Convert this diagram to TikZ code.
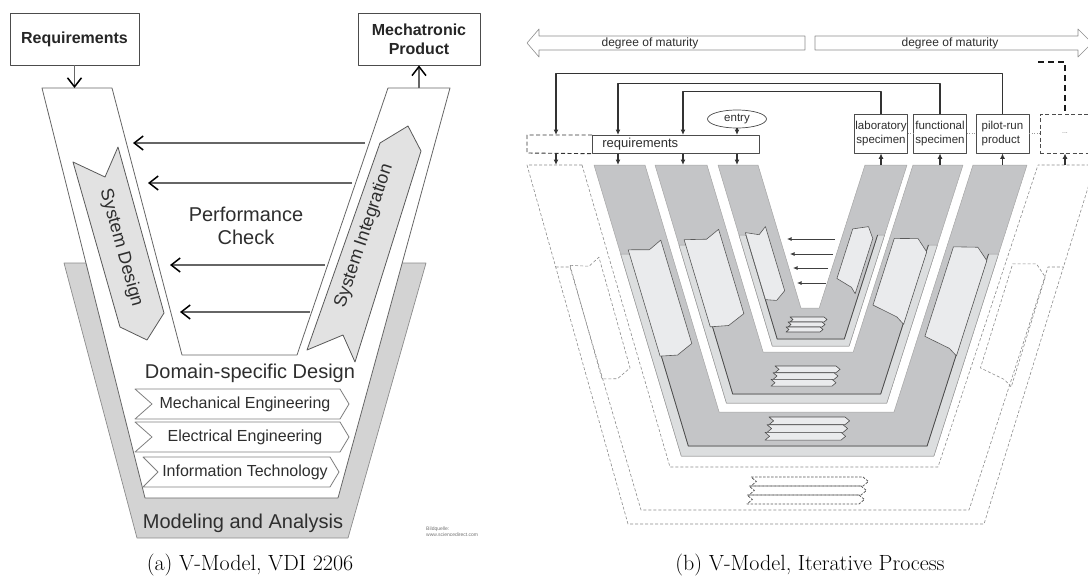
\documentclass[tikz,border=0pt]{standalone}
\usepackage{fontspec}
\newfontfamily\arialf{Liberation Sans}
\usetikzlibrary{arrows.meta,shapes.geometric}
\definecolor{agrey}{HTML}{D3D3D3}
\definecolor{apanel}{HTML}{E2E2E2}
\definecolor{vgrey}{HTML}{C4C5C7}
\definecolor{vlight}{HTML}{DCDEDF}
\definecolor{vpanel}{HTML}{EAEBED}
\tikzset{
  lbl/.style 2 args={font=\arialf\fontsize{#1}{#2}\selectfont, text=black!82, inner sep=0pt},
  abox/.style={draw=black!70, line width=0.8pt, fill=white, minimum height=52pt, align=center,
    font=\arialf\bfseries\fontsize{16}{19}\selectfont, text=black!85},
  agreybox/.style={fill=agrey, draw=black!45, line width=0.7pt},
  aline/.style={draw=black!60, line width=0.8pt},
  apanelbox/.style={fill=apanel, draw=black!65, line width=0.8pt},
  achev/.style={fill=white, draw=black!50, line width=0.8pt},
  openarrow/.style={draw=black!60, line width=1.2pt, -{Straight Barb[length=9pt,width=14pt,line width=1.5pt,black]}},
  matarrow/.style={draw=black!45, fill=white, line width=0.6pt},
  vband/.style={fill=vgrey, draw=black!35, line width=0.5pt},
  vstrip/.style={fill=vlight, draw=black!40, line width=0.5pt},
  vedge/.style={draw=black!70, line width=0.8pt},
  vpanelbox/.style={fill=vpanel, draw=black!65, line width=0.6pt},
  vchev/.style={fill=vpanel, draw=black!70, line width=0.6pt},
  ghost/.style={draw=black!45, line width=0.6pt, dash pattern=on 3pt off 2pt},
  ghostchev/.style={draw=black!65, line width=0.8pt, dash pattern=on 2.5pt off 1.5pt},
  stagebox/.style={lbl={11.5}{13.5}, draw=black!70, line width=0.7pt, fill=white,
    minimum width=53pt, minimum height=39pt, inner sep=1pt, align=center},
  reqbox/.style={lbl={13}{15}, draw=black!70, line width=0.7pt, fill=white,
    minimum width=167pt, minimum height=18pt, text width=147pt, inner xsep=10pt, align=left},
  reqdash/.style={draw=black!80, line width=0.9pt, dash pattern=on 4pt off 2.5pt},
  nextdash/.style={draw=black!90, line width=1.5pt, dash pattern=on 6pt off 4pt},
  linkdot/.style={draw=black!40, line width=0.6pt, dash pattern=on 1pt off 1.5pt},
  flowline/.style={draw=black!80, line width=1.1pt, -{Latex[length=5.5pt,width=5pt]}},
  pcarrow/.style={draw=black!75, line width=0.8pt, -{Latex[length=4.5pt,width=4pt]}},
  caption/.style={font=\fontsize{22}{26}\selectfont, inner sep=0pt}
}
\newcommand{\sdshape}[6]{%
  \begin{scope}[shift={(#2,#3)},rotate=#4]
    \path[#1] ({-#5/2},{-#6/2}) -- ({0.1*#5},{-#6/2+6}) -- ({#5/2},{-#6/2}) -- ({#5/2},{#6/2-7})
      -- (0,{#6/2}) -- ({-#5/2},{#6/2-4}) -- cycle;
  \end{scope}}
\newcommand{\sishape}[6]{%
  \begin{scope}[shift={(#2,#3)},rotate=#4]
    \path[#1] ({-#5/2},{-#6/2+7}) -- ({0.15*#5},{-#6/2}) -- ({#5/2},{-#6/2+10}) -- ({#5/2},{#6/2})
      -- ({0.25*#5},{#6/2-5}) -- ({-#5/2},{#6/2-9}) -- cycle;
  \end{scope}}
\newcommand{\chevstack}[5]{%
  \foreach \k in {0,1,2}
    \path[#1] ({#2-2*\k},{#4+\k*#5}) -- ({#3-2*\k},{#4+\k*#5}) -- ({#3-2*\k+0.6*#5},{#4+(\k+0.5)*#5})
      -- ({#3-2*\k},{#4+(\k+1)*#5}) -- ({#2-2*\k},{#4+(\k+1)*#5}) -- ({#2-2*\k+0.6*#5},{#4+(\k+0.5)*#5}) -- cycle;}
\begin{document}
\begin{tikzpicture}[x=1pt,y=-1pt,line join=round]
\useasboundingbox (0,0) rectangle (1088,576);
\clip (0,0) rectangle (1088,576);

% (a) VDI 2206
\path[agreybox] (64,263) -- (426,263) -- (348,538) -- (137,538) -- cycle;
\fill[white] (42,88) -- (450,88) -- (338,498) -- (145,498) -- cycle;
\draw[aline] (42,88) -- (112,88) -- (182,355) -- (297,355) -- (388,88) -- (450,88) -- (338,498) -- (145,498) -- cycle;
\path[apanelbox] (73,162) -- (105,177) -- (118,147) -- (164,313) -- (147,340) -- (120,327) -- cycle;
\path[apanelbox] (380,143) -- (408,126) -- (421,151) -- (355,362) -- (343,335) -- (307,350) -- cycle;
\node[lbl={18}{20},rotate=-74.5] (sysd) at (121,248) {System Design};
\node[lbl={18}{20},rotate=71.5] (sysi) at (364,236) {System Integration};
\node[abox, minimum width=129pt] (reqa) at (74.5,39) {Requirements};
\node[abox, minimum width=122pt] (mech) at (419,39) {Mechatronic\\Product};
\coordinate (sdin) at (74.5,88);
\coordinate (siout) at (419,88);
\draw[openarrow] (reqa.south) -- (sdin);
\draw[openarrow] (siout) -- (mech.south);
\foreach \y/\xa/\xb [count=\i] in {143/365/133, 183/352/148, 265/325/170, 312/310/180}{
  \coordinate (pcs\i) at (\xa,\y);
  \coordinate (pce\i) at (\xb,\y);
  \draw[openarrow] (pcs\i) -- (pce\i);
}
\node[lbl={20}{23}, align=center] (perf) at (246,226) {Performance\\Check};
\node[lbl={20}{23}] (dsd) at (250,373) {Domain-specific Design};
\foreach \yt/\xl/\xr/\nt/\txt [count=\i] in {389/135/340/17/Mechanical Engineering, 422/135/340/17/Electrical Engineering, 457/143/330/15/Information Technology}{
  \path[achev] (\xl,\yt) -- (\xr,\yt) -- ({\xr+9},{\yt+15}) -- (\xr,{\yt+30}) -- (\xl,{\yt+30}) -- ({\xl+\nt},{\yt+15}) -- cycle;
  \node[lbl={16}{19}] (dom\i) at (245,{\yt+15}) {\txt};
}
\node[lbl={20}{23}] (mda) at (243,523) {Modeling and Analysis};
\node[lbl={5}{6}, text=black!55, anchor=west, align=left] (src) at (426,532) {Bildquelle:\\www.sciencedirect.com};
\node[caption] (capa) at (250,565) {(a) V-Model, VDI 2206};

% (b) iterative
\path[matarrow] (527,43) -- (539,29) -- (539,36) -- (805,36) -- (805,50) -- (539,50) -- (539,57) -- cycle;
\path[matarrow] (815,36) -- (1078,36) -- (1078,29) -- (1092,43) -- (1078,57) -- (1078,50) -- (815,50) -- cycle;
\node[lbl={12}{14}] (mat1) at (650,43) {degree of maturity};
\node[lbl={12}{14}] (mat2) at (950,43) {degree of maturity};

\draw[ghost] (582,165) -- (527,165) -- (628,524) -- (984,524) -- (1095,165) -- (1038,165);
\draw[ghost] (582,165) -- (670,467) -- (938,467) -- (1038,165);
\draw[ghost] (555.6,267) -- (570,267) -- (641,510) -- (969,510) -- (1048,267) -- (1063.5,267);
\sdshape{ghost}{601}{320}{15.7}{30}{122}
\sishape{ghost}{1013}{322}{-17.2}{35}{125}
\chevstack{ghostchev}{751}{863}{477}{9}

\path[vband] (594,165) -- (681.3,456) -- (933.9,456) -- (1027,165) -- (973,165) -- (894,412) -- (719.1,412) -- (645,165) -- cycle;
\path[vband] (655,165) -- (726.4,403) -- (886.8,403) -- (963,165) -- (913,165) -- (853.2,352) -- (763.1,352) -- (707,165) -- cycle;
\path[vband] (718,165) -- (772.3,346) -- (849.1,346) -- (907,165) -- (865,165) -- (819.2,308) -- (800.9,308) -- (758,165) -- cycle;

\path[vstrip] (620.7,254) -- (681.3,456) -- (933.9,456) -- (998.5,254) -- (988.5,254) -- (927.1,446) -- (688.3,446) -- (630.7,254) -- cycle;
\draw[vedge] (630.7,254) -- (688.3,446) -- (927.1,446) -- (988.5,254);
\path[vstrip] (679,245) -- (726.4,403) -- (886.8,403) -- (937.4,245) -- (928.4,245) -- (880.7,394) -- (732.7,394) -- (688,245) -- cycle;
\draw[vedge] (688,245) -- (732.7,394) -- (880.7,394) -- (928.4,245);
\path[vstrip] (739,235) -- (772.3,346) -- (849.1,346) -- (884.6,235) -- (877.6,235) -- (844.3,339) -- (777.2,339) -- (746,235) -- cycle;
\draw[vedge] (746,235) -- (777.2,339) -- (844.3,339) -- (877.6,235);

\sdshape{vpanelbox}{661}{300}{16.7}{34}{115}
\sdshape{vpanelbox}{715}{280}{16.7}{36}{95}
\sdshape{vpanelbox}{766}{265}{16.7}{21}{74}
\sishape{vpanelbox}{956}{298}{-17.7}{36}{110}
\sishape{vpanelbox}{900}{278}{-17.7}{35}{86}
\sishape{vpanelbox}{855}{258}{-17.7}{22}{68}

\chevstack{vchev}{790}{824}{317}{5}
\chevstack{vchev}{775}{836}{366}{6.7}
\chevstack{vchev}{769}{845}{417}{7.7}

\foreach \y/\xa/\xb [count=\i] in {239/835/787, 254/833/790, 268/828/793, 283/826/797}{
  \coordinate (pbs\i) at (\xa,\y);
  \coordinate (pbe\i) at (\xb,\y);
  \draw[pcarrow] (pbs\i) -- (pbe\i);
}

\node[reqbox, anchor=north west] (req) at (592,135) {requirements};
\draw[reqdash] (req.north west) -- ++(-65,0) -- ++(0,18) -- (req.south west);
\node[ellipse, draw=black!70, line width=0.7pt, fill=white, minimum width=59pt, minimum height=18pt, lbl={11.5}{13}] (entry) at (737,119) {entry};
\node[stagebox] (lab) at (881,133.5) {laboratory\\specimen};
\node[stagebox] (func) at (940,133.5) {functional\\specimen};
\node[stagebox, align=left] (pilot) at (1002.5,133.5) {pilot-run\\product};
\node[stagebox, dash pattern=on 4pt off 2.5pt, minimum width=50pt, text=black!50] (dots) at (1065,133.5) {\fontsize{7}{8}\selectfont ...};
\draw[linkdot] (lab.east) -- (func.west);
\draw[linkdot] (func.east) -- (pilot.west);
\draw[linkdot] (pilot.east) -- (dots.west);

\coordinate (bandtop) at (0,165);
\foreach \x [count=\i] in {556,618,683,737}{
  \coordinate (rin\i) at (\x,135);
  \coordinate (bt\i) at (\x,165);
  \draw[flowline] (bt\i |- req.south) -- (bt\i);
}
\draw[flowline] (pilot.north) -- ++(0,-40) -| (rin1);
\draw[flowline] (func.north) -- ++(0,-30) -| (rin2);
\draw[flowline] (lab.north) -- ++(0,-22) -| (rin3);
\draw[flowline] (entry) -- (rin4);
\foreach \n in {lab,func,pilot,dots}
  \draw[flowline] (\n.south |- bandtop) -- (\n.south);
\coordinate (nextloop) at (1038,62);
\draw[nextdash] (nextloop) -| (dots.north);

\node[caption] (capb) at (810,565) {(b) V-Model, Iterative Process};
\end{tikzpicture}
\end{document}
